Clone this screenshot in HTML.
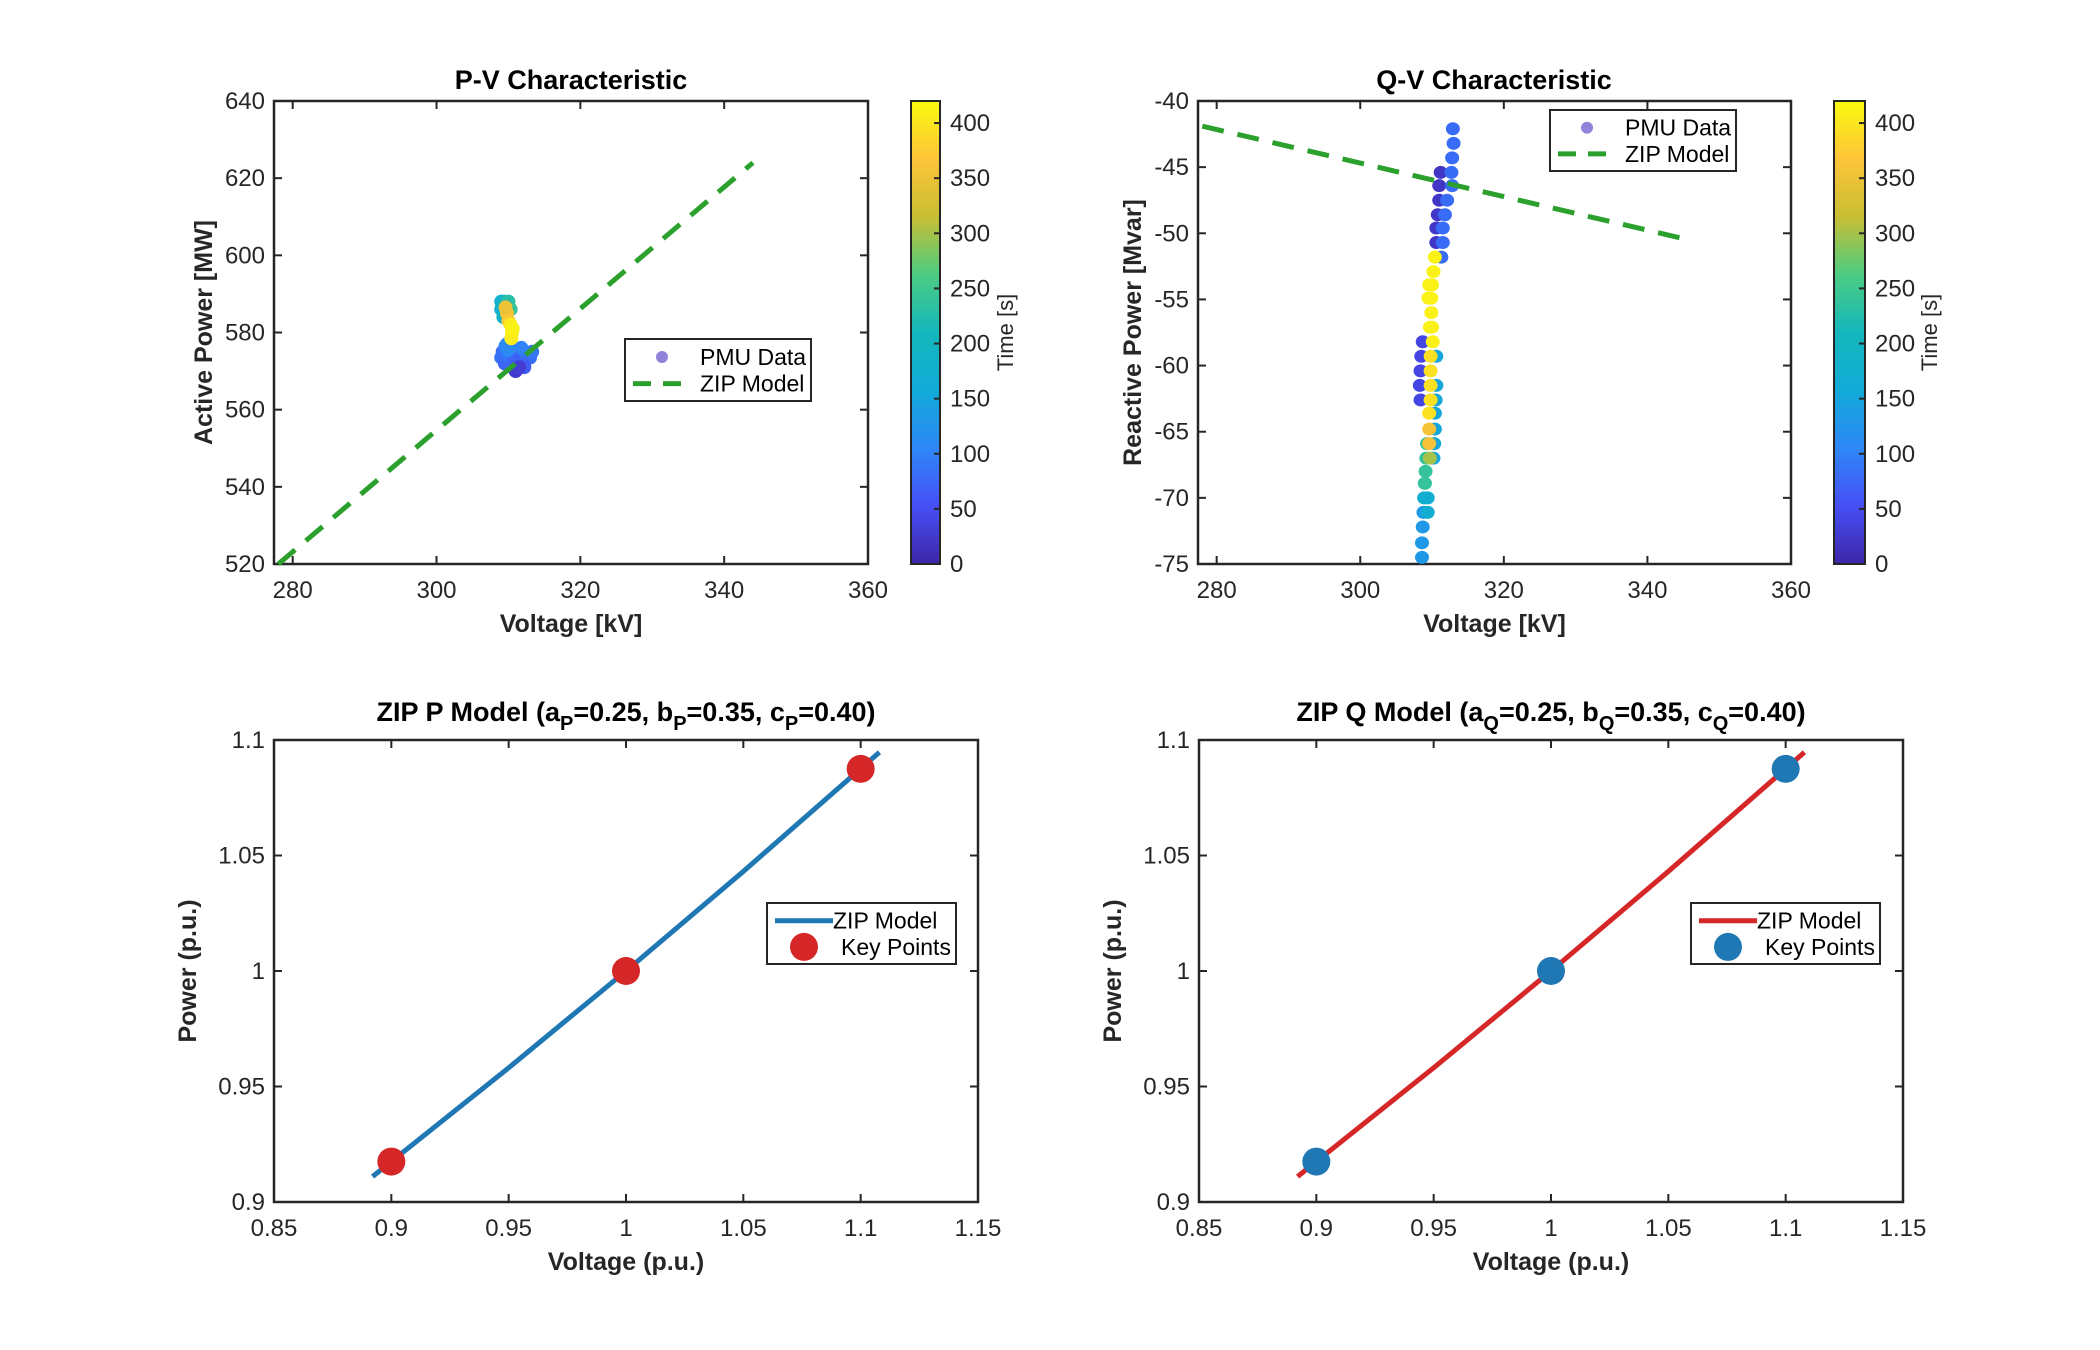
<!DOCTYPE html>
<html><head><meta charset="utf-8"><style>
html,body{margin:0;padding:0;background:#fff;}
svg{display:block;font-family:"Liberation Sans",Arial,sans-serif;}
</style></head><body>
<svg id="fig" width="2100" height="1350" viewBox="0 0 2100 1350" xmlns="http://www.w3.org/2000/svg">
<defs>
<linearGradient id="parula" x1="0" y1="1" x2="0" y2="0">
<stop offset="0" stop-color="rgb(62,38,168)"/>
<stop offset="0.125" stop-color="rgb(70,79,245)"/>
<stop offset="0.25" stop-color="rgb(46,135,247)"/>
<stop offset="0.375" stop-color="rgb(17,171,216)"/>
<stop offset="0.5" stop-color="rgb(20,183,188)"/>
<stop offset="0.625" stop-color="rgb(76,204,130)"/>
<stop offset="0.75" stop-color="rgb(200,190,50)"/>
<stop offset="0.875" stop-color="rgb(254,196,57)"/>
<stop offset="1" stop-color="rgb(249,251,14)"/>
</linearGradient>
</defs>
</svg>
<script>
// ---- data ----
const pvV = [309.2,309.0,309.5,310.0,310.5,311.0,311.5,312.0,312.5,313.0,313.3,311.8,310.8,312.2,309.6,311.2,311.0,311.5,309.8,310.0,309.0,309.0,309.3,309.5,310.0,310.3,309.8,310.0,309.6,310.3,310.5,310.4,310.6];
const pvP = [575,573.5,572,574,576,575,573,572,574.5,573.5,575,576,572.5,571,576.5,571,570,571,577,575.5,586,588,584,588,588,586,585,583,586.5,582,580,578.5,581];
const pvT = [80,85,75,90,95,80,70,75,85,80,90,100,70,65,100,60,25,30,110,110,180,180,190,200,230,240,360,370,350,405,410,405,410];
const pvModelV = [278,344];
const pvModelP = [520,624];

const qvV = [311.2,311.0,311.0,310.8,310.6,310.6,308.7,308.5,308.4,308.3,308.4,312.9,313.0,312.8,312.7,312.8,312.1,311.8,311.5,311.5,311.3,308.6,308.6,308.7,308.8,308.9,309.0,309.4,309.4,310.6,310.6,310.5,310.4,310.4,310.3,310.2,309.2,309.1,309.0,309.3,309.7,309.6,309.6,309.6,309.8,309.8,309.8,309.8,310.1,310.0,309.9,309.9,310.0,310.2,310.4,309.7,309.5,309.6];
const qvQ = [-45.4,-46.4,-47.5,-48.6,-49.6,-50.7,-58.2,-59.3,-60.4,-61.5,-62.6,-42.1,-43.2,-44.3,-45.4,-46.4,-47.5,-48.6,-49.6,-50.7,-51.8,-74.5,-73.4,-72.2,-71.1,-70.0,-68.9,-70.0,-71.1,-59.3,-61.5,-62.6,-63.6,-64.8,-65.9,-67.0,-67.0,-68.0,-68.9,-65.9,-67.0,-65.9,-64.8,-63.6,-62.6,-61.5,-60.4,-59.3,-58.2,-57.1,-56.0,-54.9,-53.9,-52.9,-51.8,-57.1,-54.9,-53.9];
const qvT = [20,20,20,20,20,20,40,40,40,40,40,80,80,80,80,80,80,80,80,80,80,130,130,130,130,170,170,170,170,150,150,150,150,150,150,150,240,240,240,240,300,360,360,395,395,395,395,395,410,410,410,410,410,410,410,410,410,410];
const qvModelV = [278,345];
const qvModelQ = [-41.9,-50.4];

const zipV = [0.892,0.95,1.0,1.05,1.108];
const zipP = [0.9110,0.9581,1.0,1.0431,1.0947];
const keyV = [0.9,1.0,1.1];
const keyP = [0.9175,1.0,1.0875];
const zipQ = [0.9110,0.9581,1.0,1.0431,1.0947];
const keyQ = [0.9175,1.0,1.0875];

const pvXTicks = [280,300,320,340,360];
const pvYTicks = [520,540,560,580,600,620,640];
const qvYTicks = [-75,-70,-65,-60,-55,-50,-45,-40];
const zipXTicks = [0.85,0.9,0.95,1,1.05,1.1,1.15];
const zipXTickLabels = ['0.85','0.9','0.95','1','1.05','1.1','1.15'];
const zipYTicks = [0.9,0.95,1,1.05,1.1];
const zipYTickLabels = ['0.9','0.95','1','1.05','1.1'];
const cbTicks = [0,50,100,150,200,250,300,350,400];

// ---- helpers ----
const NS='http://www.w3.org/2000/svg';
const svg=document.getElementById('fig');
function mk(tag,attrs,parent){const e=document.createElementNS(NS,tag);for(const k in attrs)e.setAttribute(k,attrs[k]);(parent||svg).appendChild(e);return e;}
const stops=[[0,62,38,168],[0.125,70,79,245],[0.25,46,135,247],[0.375,17,171,216],[0.5,20,183,188],[0.625,76,204,130],[0.75,200,190,50],[0.875,254,196,57],[1,249,251,14]];
function parula(t){t=Math.max(0,Math.min(1,t));for(let i=1;i<stops.length;i++){if(t<=stops[i][0]){const a=stops[i-1],b=stops[i];const f=(t-a[0])/(b[0]-a[0]);return 'rgb('+[1,2,3].map(j=>Math.round(a[j]+(b[j]-a[j])*f)).join(',')+')';}}return 'rgb(249,251,14)';}
function lin(d0,d1,r0,r1){return v=>r0+(v-d0)/(d1-d0)*(r1-r0);}
const AX='#262626';

function axes(o){
  const g=mk('g',{});
  
  
  const sx=lin(o.xmin,o.xmax,o.L,o.R), sy=lin(o.ymin,o.ymax,o.B,o.T);
  const fr=mk('rect',{x:o.L,y:o.T,width:o.R-o.L,height:o.B-o.T,fill:'#fff',stroke:AX,'stroke-width':2.5},g);
  
  
  o.xt.forEach((v,i)=>{const x=sx(v);
    mk('line',{x1:x,y1:o.B,x2:x,y2:o.B-8,stroke:AX,'stroke-width':2},g);
    mk('line',{x1:x,y1:o.T,x2:x,y2:o.T+8,stroke:AX,'stroke-width':2},g);
    const t=mk('text',{x:x,y:o.B+34,'text-anchor':'middle','font-size':24,fill:AX},g);
    t.textContent=o.xl?o.xl[i]:String(v);
    
    });
  o.yt.forEach((v,i)=>{const y=sy(v);
    mk('line',{x1:o.L,y1:y,x2:o.L+8,y2:y,stroke:AX,'stroke-width':2},g);
    mk('line',{x1:o.R,y1:y,x2:o.R-8,y2:y,stroke:AX,'stroke-width':2},g);
    const t=mk('text',{x:o.L-9,y:y+8,'text-anchor':'end','font-size':24,fill:AX},g);
    t.textContent=o.yl?o.yl[i]:String(v);
    
    });
  const xl=mk('text',{x:(o.L+o.R)/2,y:o.B+68,'text-anchor':'middle','font-size':25,'font-weight':'bold',fill:AX},g);
  xl.textContent=o.xlabel;
  
  
  const yc=(o.T+o.B)/2;
  const yl=mk('text',{x:o.ylx,y:yc,'text-anchor':'middle','font-size':25,'font-weight':'bold',fill:AX,transform:'rotate(-90 '+o.ylx+' '+yc+')'},g);
  yl.textContent=o.ylabel;
  
  
  return {g,sx,sy};
}
function title(x,y,parts){
  const t=mk('text',{x:x,y:y,'text-anchor':'middle','font-size':27,'font-weight':'bold',fill:'#000'});
  
  
  parts.forEach(p=>{const s=mk('tspan',{},t);
    if(p[1]){s.setAttribute('dy','9');s.setAttribute('font-size','20');}
    else if(p[2]){s.setAttribute('dy','-9');}
    s.textContent=p[0];});
}
function colorbar(L,R,T,B,lx,name){
  const g=mk('g',{});
  
  
  mk('rect',{x:L,y:T,width:R-L,height:B-T,fill:'url(#parula)',stroke:AX,'stroke-width':2},g);
  const s=lin(0,420,B,T);
  cbTicks.forEach(v=>{const y=s(v);
    mk('line',{x1:R,y1:y,x2:R-6,y2:y,stroke:AX,'stroke-width':2},g);
    const t=mk('text',{x:R+10,y:y+8,'font-size':24,fill:AX},g);t.textContent=String(v);
    
    });
  const yc=(T+B)/2;
  const t=mk('text',{x:lx,y:yc,'text-anchor':'middle','font-size':22,fill:AX,transform:'rotate(-90 '+lx+' '+yc+')'},g);
  t.textContent='Time [s]';
  
  
}
function legend(x,y,w,h,entries,name){
  const g=mk('g',{});
  
  
  mk('rect',{x:x,y:y,width:w,height:h,fill:'#fff',stroke:AX,'stroke-width':2},g);
  entries.forEach((e,i)=>{const cy=y+h*(i===0?0.29:0.72);
    if(e.type==='dot'){mk('ellipse',{cx:x+e.mx,cy:cy,rx:e.r,ry:e.r,fill:e.color,'fill-opacity':e.op||1},g);}
    else{mk('line',{x1:x+8,y1:cy,x2:x+66,y2:cy,stroke:e.color,'stroke-width':5,'stroke-dasharray':e.dash||'none'},g);}
    const t=mk('text',{x:x+e.tx,y:cy+8,'font-size':23,fill:'#000'},g);t.textContent=e.label;
    
    });
}

// ---- P-V ----
title(571,89,[['P-V Characteristic']]);
let a=axes({name:'pv-axes',L:274,R:868,T:101,B:564,xmin:277.4,xmax:360,ymin:520,ymax:640,xt:pvXTicks,yt:pvYTicks,xlabel:'Voltage [kV]',ylabel:'Active Power [MW]',ylx:212});
pvV.forEach((v,i)=>{const c=mk('circle',{cx:a.sx(v),cy:a.sy(pvP[i]),r:7,fill:parula(pvT[i]/420)});
  
  });
let ml=mk('line',{x1:a.sx(pvModelV[0]),y1:a.sy(pvModelP[0]),x2:a.sx(pvModelV[1]),y2:a.sy(pvModelP[1]),stroke:'#2ca02c','stroke-width':5,'stroke-dasharray':'22 14'});


colorbar(911,940,101,564,1013,'pv-colorbar');
legend(625,339,186,62,[{type:'dot',color:'#6a5acd',op:0.75,r:6,mx:37,tx:75,label:'PMU Data'},{type:'line',color:'#2ca02c',dash:'18 12',tx:75,label:'ZIP Model'}],'pv-legend');

// ---- Q-V ----
title(1494,89,[['Q-V Characteristic']]);
a=axes({name:'qv-axes',L:1198,R:1791,T:101,B:564,xmin:277.4,xmax:360,ymin:-75,ymax:-40,xt:pvXTicks,yt:qvYTicks,xlabel:'Voltage [kV]',ylabel:'Reactive Power [Mvar]',ylx:1141});
qvV.forEach((v,i)=>{const c=mk('ellipse',{cx:a.sx(v),cy:a.sy(qvQ[i]),rx:7,ry:6.5,fill:parula(qvT[i]/420)});
  
  });
ml=mk('line',{x1:a.sx(qvModelV[0]),y1:a.sy(qvModelQ[0]),x2:a.sx(qvModelV[1]),y2:a.sy(qvModelQ[1]),stroke:'#2ca02c','stroke-width':5,'stroke-dasharray':'22 14'});


colorbar(1834,1865,101,564,1937,'qv-colorbar');
legend(1550,110,186,61,[{type:'dot',color:'#6a5acd',op:0.75,r:6,mx:37,tx:75,label:'PMU Data'},{type:'line',color:'#2ca02c',dash:'18 12',tx:75,label:'ZIP Model'}],'qv-legend');

// ---- ZIP P ----
function zipPlot(L,R,name,lineColor,dotColor,ys,keys,sub,lx,ylx){
  title((L+R)/2,721,[['ZIP '+sub+' Model (a'],[sub,1],['=0.25, b',0,1],[sub,1],['=0.35, c',0,1],[sub,1],['=0.40)',0,1]]);
  const ax=axes({name:name,L:L,R:R,T:740,B:1202,xmin:0.85,xmax:1.15,ymin:0.9,ymax:1.1,xt:zipXTicks,xl:zipXTickLabels,yt:zipYTicks,yl:zipYTickLabels,xlabel:'Voltage (p.u.)',ylabel:'Power (p.u.)',ylx:ylx});
  const p=mk('polyline',{points:zipV.map((v,i)=>ax.sx(v)+','+ax.sy(ys[i])).join(' '),fill:'none',stroke:lineColor,'stroke-width':5});
  
  
  keyV.forEach((v,i)=>{const c=mk('circle',{cx:ax.sx(v),cy:ax.sy(keys[i]),r:14,fill:dotColor});
    
    });
  legend(lx,903,189,61,[{type:'line',color:lineColor,tx:66,label:'ZIP Model'},{type:'dot',color:dotColor,r:14,mx:37,tx:74,label:'Key Points'}],name+'-legend');
}
zipPlot(274,978,'zip-p-axes','#1f77b4','#d62728',zipP,keyP,'P',767,196);
zipPlot(1199,1903,'zip-q-axes','#d62728','#1f77b4',zipQ,keyQ,'Q',1691,1121);
</script>
</body></html>
